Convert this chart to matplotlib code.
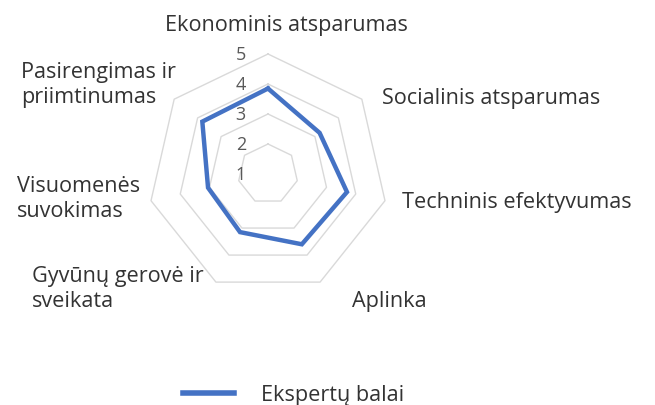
import numpy as np
import matplotlib
matplotlib.use("Agg")
import matplotlib.pyplot as plt

categories = ["Ekonominis atsparumas", "Socialinis atsparumas", "Techninis efektyvumas",
              "Aplinka", "Gyvūnų gerovė ir\nsveikata", "Visuomenės\nsuvokimas",
              "Pasirengimas ir\npriimtinumas"]
values = [3.85, 3.2, 3.7, 3.6, 3.15, 3.05, 3.8]
ticks = [1, 2, 3, 4, 5]
series_name = "Ekspertų balai"

plt.rcParams['font.family'] = ['Open Sans', 'DejaVu Sans']

W, H = 655, 406
fig = plt.figure(figsize=(W / 100, H / 100), dpi=100)
ax = fig.add_axes([0, 0, 1, 1])
cx, cy, unit = 268, 175, 30.0
ax.set_xlim(-cx / unit, (W - cx) / unit)
ax.set_ylim(-(H - cy) / unit, cy / unit)
ax.axis('off')

n = len(categories)
rmin = ticks[0]
ang = np.pi / 2 - 2 * np.pi * np.arange(n) / n

def xy(vals):
    r = np.asarray(vals, dtype=float) - rmin
    return r * np.cos(ang), r * np.sin(ang)

def px(x, y):
    return (x - cx) / unit, (cy - y) / unit

grid_c = '#D9D9D9'
for t in ticks[1:]:
    gx, gy = xy([t] * n)
    ax.plot(np.append(gx, gx[0]), np.append(gy, gy[0]), color=grid_c, lw=1.0, zorder=1)

vx, vy = xy(values)
line, = ax.plot(np.append(vx, vx[0]), np.append(vy, vy[0]), color='#4472C4', lw=3.2,
                solid_joinstyle='miter', zorder=3, label=series_name)

tick_c = '#595959'
for t in ticks:
    x, y = px(246, 0)
    ax.text(x, t - rmin, str(t), ha='right', va='center', fontsize=13, color=tick_c, zorder=4)

txt_c = '#333333'
fs = 15.6
pos = [
    (286, 26, 'center', 'center'),
    (382, 99, 'left', 'center'),
    (402, 203, 'left', 'center'),
    (352, 302, 'left', 'center'),
    (32, 289, 'left', 'center'),
    (17, 199, 'left', 'center'),
    (21, 85, 'left', 'center'),
]
for lab, (px_, py_, ha, va) in zip(categories, pos):
    x, y = px(px_, py_)
    ax.text(x, y, lab, ha=ha, va=va, fontsize=fs, color=txt_c, linespacing=1.3)

leg = fig.legend(handles=[line], labels=[series_name], loc='center left',
                 bbox_to_anchor=(183 / W, 1 - 396 / H), frameon=False, fontsize=fs,
                 handlelength=2.35, handletextpad=1.25, borderpad=0, borderaxespad=0,
                 labelcolor=txt_c)
leg.get_lines()[0].set_linewidth(4)

fig.savefig('out.png', dpi=100, facecolor='white')
